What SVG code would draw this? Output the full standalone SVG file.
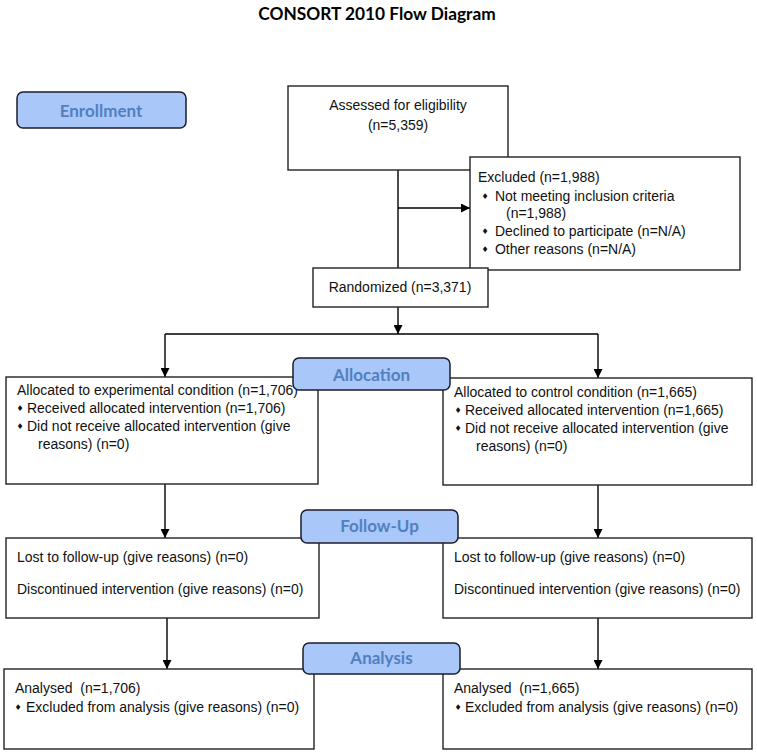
<svg xmlns="http://www.w3.org/2000/svg" width="757" height="754" viewBox="0 0 757 754">
<defs>
<marker id="ah" viewBox="0 0 10 10" refX="10" refY="5" markerWidth="9" markerHeight="9" markerUnits="userSpaceOnUse" orient="auto">
<path d="M0,0 L10,5 L0,10 Z" fill="#000"/>
</marker>
<style>
.bg{fill:#fff}
.box{fill:#fff;stroke:#222;stroke-width:1.4}
.phase{fill:#a9c7f8;stroke:#1d1d2b;stroke-width:1.5}
.pt{font-family:Lato,"Open Sans",sans-serif;font-weight:bold;font-size:17px;fill:#5180c0;text-anchor:middle}
.t{font-family:"Liberation Sans",Arial,sans-serif;font-size:15.5px;fill:#111}
.c{text-anchor:middle}
.b{font-family:"DejaVu Sans",sans-serif;font-size:8px;fill:#111;text-anchor:middle}
.ln{fill:none;stroke:#000;stroke-width:1.4}
.title{font-family:Lato,"Open Sans",sans-serif;font-weight:bold;font-size:17.3px;fill:#000;text-anchor:middle}
</style>
</defs>
<rect class="bg" x="0" y="0" width="757" height="754"/>
<text class="title" x="377" y="20">CONSORT 2010 Flow Diagram</text>

<g id="connectors">
<line class="ln" x1="398" y1="170" x2="398" y2="268"/>
<line class="ln" x1="398" y1="208" x2="470" y2="208" marker-end="url(#ah)"/>
<line class="ln" x1="398" y1="307" x2="398" y2="334" marker-end="url(#ah)"/>
<line class="ln" x1="165" y1="334" x2="598" y2="334"/>
<line class="ln" x1="165" y1="334" x2="165" y2="377" marker-end="url(#ah)"/>
<line class="ln" x1="598" y1="334" x2="598" y2="378" marker-end="url(#ah)"/>
<line class="ln" x1="165" y1="484" x2="165" y2="538" marker-end="url(#ah)"/>
<line class="ln" x1="598" y1="485" x2="598" y2="538" marker-end="url(#ah)"/>
<line class="ln" x1="167" y1="618" x2="167" y2="669" marker-end="url(#ah)"/>
<line class="ln" x1="598" y1="618" x2="598" y2="669" marker-end="url(#ah)"/>
</g>

<g id="assessed">
<rect class="box" x="288" y="86" width="220" height="84"/>
<text class="t c" transform="translate(398,110) scale(0.903,1)">Assessed for eligibility</text>
<text class="t c" transform="translate(398,130) scale(0.903,1)">(n=5,359)</text>
</g>

<g id="excluded">
<rect class="box" x="470" y="157" width="270" height="113"/>
<text class="t" transform="translate(478,182) scale(0.903,1)">Excluded (n=1,988)</text>
<text class="b" x="485" y="199">♦</text>
<text class="t" transform="translate(495,201) scale(0.903,1)">Not meeting inclusion criteria</text>
<text class="t" transform="translate(506,218) scale(0.903,1)">(n=1,988)</text>
<text class="b" x="485" y="234">♦</text>
<text class="t" transform="translate(495,236) scale(0.903,1)">Declined to participate (n=N/A)</text>
<text class="b" x="485" y="252">♦</text>
<text class="t" transform="translate(495,254) scale(0.903,1)">Other reasons (n=N/A)</text>
</g>

<g id="randomized">
<rect class="box" x="313" y="268" width="175" height="39"/>
<text class="t c" transform="translate(400,292) scale(0.903,1)">Randomized (n=3,371)</text>
</g>

<g id="alloc-exp">
<rect class="box" x="6" y="377" width="312" height="107"/>
<text class="t" transform="translate(17,395) scale(0.903,1)">Allocated to experimental condition (n=1,706)</text>
<text class="b" x="20" y="411">♦</text>
<text class="t" transform="translate(27,413) scale(0.903,1)">Received allocated intervention (n=1,706)</text>
<text class="b" x="20" y="429">♦</text>
<text class="t" transform="translate(27,431) scale(0.903,1)">Did not receive allocated intervention (give</text>
<text class="t" transform="translate(38,449) scale(0.903,1)">reasons) (n=0)</text>
</g>

<g id="alloc-ctrl">
<rect class="box" x="443" y="378" width="309" height="107"/>
<text class="t" transform="translate(454,397) scale(0.903,1)">Allocated to control condition (n=1,665)</text>
<text class="b" x="458" y="413">♦</text>
<text class="t" transform="translate(465,415) scale(0.903,1)">Received allocated intervention (n=1,665)</text>
<text class="b" x="458" y="431">♦</text>
<text class="t" transform="translate(465,433) scale(0.903,1)">Did not receive allocated intervention (give</text>
<text class="t" transform="translate(476,451) scale(0.903,1)">reasons) (n=0)</text>
</g>

<g id="follow-exp">
<rect class="box" x="6" y="538" width="313" height="80"/>
<text class="t" transform="translate(17,562) scale(0.903,1)">Lost to follow-up (give reasons) (n=0)</text>
<text class="t" transform="translate(17,594) scale(0.903,1)">Discontinued intervention (give reasons) (n=0)</text>
</g>

<g id="follow-ctrl">
<rect class="box" x="443" y="538" width="309" height="80"/>
<text class="t" transform="translate(454,562) scale(0.903,1)">Lost to follow-up (give reasons) (n=0)</text>
<text class="t" transform="translate(454,594) scale(0.903,1)">Discontinued intervention (give reasons) (n=0)</text>
</g>

<g id="analysis-exp">
<rect class="box" x="4" y="669" width="310" height="80"/>
<text class="t" xml:space="preserve" transform="translate(15,693) scale(0.903,1)">Analysed  (n=1,706)</text>
<text class="b" x="18" y="710">♦</text>
<text class="t" transform="translate(26,712) scale(0.903,1)">Excluded from analysis (give reasons) (n=0)</text>
</g>

<g id="analysis-ctrl">
<rect class="box" x="443" y="669" width="309" height="80"/>
<text class="t" xml:space="preserve" transform="translate(454,693) scale(0.903,1)">Analysed  (n=1,665)</text>
<text class="b" x="458" y="710">♦</text>
<text class="t" transform="translate(465,712) scale(0.903,1)">Excluded from analysis (give reasons) (n=0)</text>
</g>

<g id="phase-enrollment">
<rect class="phase" x="17" y="92" width="169" height="36" rx="6"/>
<text class="pt" x="101" y="117">Enrollment</text>
</g>
<g id="phase-allocation">
<rect class="phase" x="293" y="358" width="157" height="32" rx="6"/>
<text class="pt" x="371.5" y="381">Allocation</text>
</g>
<g id="phase-followup">
<rect class="phase" x="301" y="510" width="157" height="33" rx="6"/>
<text class="pt" x="379.5" y="532">Follow-Up</text>
</g>
<g id="phase-analysis">
<rect class="phase" x="303" y="643" width="157" height="31" rx="6"/>
<text class="pt" x="381.5" y="664">Analysis</text>
</g>
</svg>
